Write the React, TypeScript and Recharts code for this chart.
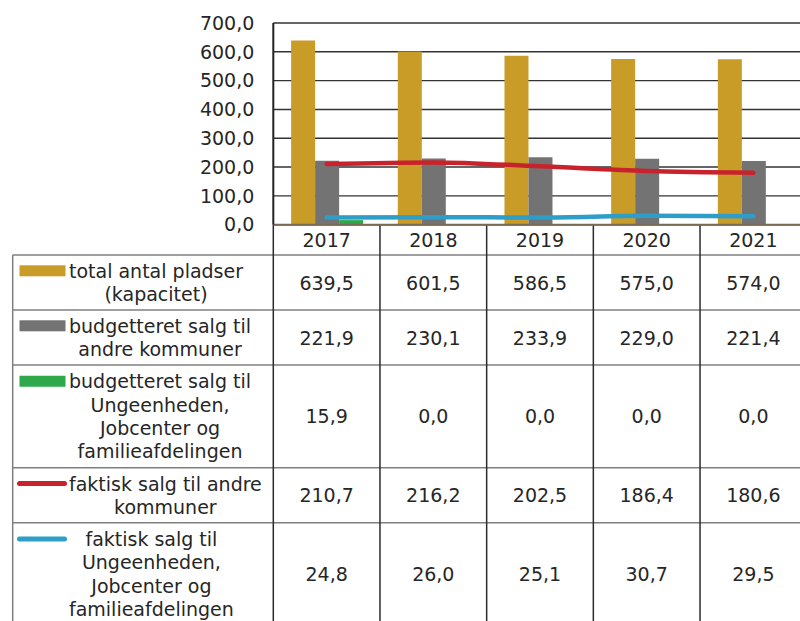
import React from 'react';
import { ComposedChart, Bar, Line, XAxis, YAxis, CartesianGrid, Customized } from 'recharts';

// ---------- data ----------
const categories = ['2017', '2018', '2019', '2020', '2021'];
const totalPladser = [639.5, 601.5, 586.5, 575.0, 574.0];
const budgetAndre = [221.9, 230.1, 233.9, 229.0, 221.4];
const budgetUnge = [15.9, 0.0, 0.0, 0.0, 0.0];
const faktiskAndre = [210.7, 216.2, 202.5, 186.4, 180.6];
const faktiskUnge = [24.8, 26.0, 25.1, 30.7, 29.5];
const yTicks = [0, 100, 200, 300, 400, 500, 600, 700];

const labelTotal = ['total antal pladser', '(kapacitet)'];
const labelBudgetAndre = ['budgetteret salg til', 'andre kommuner'];
const labelBudgetUnge = ['budgetteret salg til', 'Ungeenheden,', 'Jobcenter og', 'familieafdelingen'];
const labelFaktiskAndre = ['faktisk salg til andre', 'kommuner'];
const labelFaktiskUnge = ['faktisk salg til', 'Ungeenheden,', 'Jobcenter og', 'familieafdelingen'];

// ---------- styles ----------
const COLORS = {
  gold: '#C99C28',
  gray: '#737373',
  green: '#2DA84B',
  red: '#C8232C',
  blue: '#2E9EC9',
};
const FONT = '"DejaVu Sans", Verdana, sans-serif';
const FONT_SIZE = 19;
const TEXT = '#262626';

const data = categories.map((c, i) => ({
  cat: c,
  total: totalPladser[i],
  bAndre: budgetAndre[i],
  bUnge: budgetUnge[i],
  fAndre: faktiskAndre[i],
  fUnge: faktiskUnge[i],
}));

const rowsDef = [
  { kind: 'bar', color: COLORS.gold, lines: labelTotal, values: totalPladser },
  { kind: 'bar', color: COLORS.gray, lines: labelBudgetAndre, values: budgetAndre },
  { kind: 'bar', color: COLORS.green, lines: labelBudgetUnge, values: budgetUnge },
  { kind: 'line', color: COLORS.red, lines: labelFaktiskAndre, values: faktiskAndre },
  { kind: 'line', color: COLORS.blue, lines: labelFaktiskUnge, values: faktiskUnge },
];

// ---------- layout ----------
const CHART_W = 815;
const CHART_H = 621;
const PLOT_LEFT = 273.3;
const PLOT_RIGHT = 806.7;
const PLOT_TOP = 23;
const PLOT_BOTTOM = 224.7;
const XAXIS_H = 30;
const TABLE_TOP = 255;
const TABLE_LEFT = 12.7;
const ROW_HEIGHTS = [55, 55, 102.7, 55, 102.7];
const LINE_GAP = 23.4;
const LABEL_START = 69;

const fmt = (v: number) => v.toFixed(1).replace('.', ',');

let measureCtx: CanvasRenderingContext2D | null = null;
const measure = (s: string) => {
  if (!measureCtx) {
    const c = document.createElement('canvas');
    measureCtx = c.getContext('2d');
    if (measureCtx) measureCtx.font = `${FONT_SIZE}px "DejaVu Sans"`;
  }
  return measureCtx ? measureCtx.measureText(s).width : s.length * 10;
};

const XTick = (props: any) => {
  const { x, y, payload } = props;
  return (
    <text x={x} y={y + 15} textAnchor="middle" dominantBaseline="central" fill={TEXT} fontSize={FONT_SIZE} fontFamily={FONT}>
      {payload.value}
    </text>
  );
};

const TableLayer = () => {
  const n = categories.length;
  const band = (PLOT_RIGHT - PLOT_LEFT) / n;
  const boundaries: number[] = [];
  let acc = TABLE_TOP;
  boundaries.push(acc);
  ROW_HEIGHTS.forEach((h) => {
    acc += h;
    boundaries.push(acc);
  });
  const bottom = boundaries[boundaries.length - 1];
  const els: React.ReactNode[] = [];

  // horizontal lines
  boundaries.slice(0, -1).forEach((yy, i) => {
    els.push(<line key={`h${i}`} x1={TABLE_LEFT} x2={CHART_W} y1={yy} y2={yy} stroke="#7F7F7F" strokeWidth={1.5} />);
  });
  // left border
  els.push(<line key="lb" x1={TABLE_LEFT} x2={TABLE_LEFT} y1={TABLE_TOP} y2={bottom} stroke="#7F7F7F" strokeWidth={1.5} />);
  // vertical category lines
  for (let k = 0; k <= n; k++) {
    const xx = PLOT_LEFT + k * band;
    els.push(<line key={`v${k}`} x1={xx} x2={xx} y1={PLOT_BOTTOM} y2={bottom} stroke="#2B2B2B" strokeWidth={1.5} />);
  }

  rowsDef.forEach((row, r) => {
    const top = boundaries[r];
    const h = ROW_HEIGHTS[r];
    const cy = top + h / 2;
    const nl = row.lines.length;
    const firstY = cy - ((nl - 1) * LINE_GAP) / 2;
    const maxW = Math.max(...row.lines.map(measure));
    const cx = LABEL_START + maxW / 2;
    // marker
    if (row.kind === 'bar') {
      els.push(<rect key={`m${r}`} x={19.5} y={firstY - 5.5} width={46} height={11} fill={row.color} />);
    } else {
      els.push(
        <line key={`m${r}`} x1={19.5} x2={64.5} y1={firstY} y2={firstY} stroke={row.color} strokeWidth={5} strokeLinecap="round" />
      );
    }
    row.lines.forEach((ln, li) => {
      els.push(
        <text key={`t${r}-${li}`} x={cx} y={firstY + li * LINE_GAP} textAnchor="middle" dominantBaseline="central" fill={TEXT} fontSize={FONT_SIZE} fontFamily={FONT}>
          {ln}
        </text>
      );
    });
    row.values.forEach((v, ci) => {
      els.push(
        <text key={`v${r}-${ci}`} x={PLOT_LEFT + (ci + 0.5) * band} y={cy} textAnchor="middle" dominantBaseline="central" fill={TEXT} fontSize={FONT_SIZE} fontFamily={FONT}>
          {fmt(v)}
        </text>
      );
    });
  });
  return <g>{els}</g>;
};

export default function App() {
  return (
    <div style={{ position: 'absolute', left: 0, top: 0, width: 800, height: 621, overflow: 'hidden', background: '#fff' }}>
      <ComposedChart
        width={CHART_W}
        height={CHART_H}
        data={data}
        margin={{ top: PLOT_TOP, right: CHART_W - PLOT_RIGHT, left: 0, bottom: CHART_H - PLOT_BOTTOM - XAXIS_H }}
        barCategoryGap="16.7%"
        barGap={0}
      >
        <CartesianGrid horizontal vertical={false} stroke="#333" strokeWidth={1.4} />
        <XAxis
          dataKey="cat"
          height={XAXIS_H}
          tickLine={false}
          tickSize={0}
          tickMargin={0}
          axisLine={{ stroke: '#7B6D55', strokeWidth: 2 }}
          tick={<XTick />}
          interval={0}
        />
        <YAxis
          width={PLOT_LEFT}
          domain={[0, 700]}
          ticks={yTicks}
          tickFormatter={fmt}
          tickLine={false}
          tickSize={0}
          tickMargin={19}
          axisLine={{ stroke: '#222', strokeWidth: 2 }}
          tick={{ fill: TEXT, fontSize: FONT_SIZE, fontFamily: FONT }}
          interval={0}
        />
        <Bar dataKey="total" fill={COLORS.gold} isAnimationActive={false} />
        <Bar dataKey="bAndre" fill={COLORS.gray} isAnimationActive={false} />
        <Bar dataKey="bUnge" fill={COLORS.green} isAnimationActive={false} />
        <Line dataKey="fAndre" type="monotone" stroke={COLORS.red} strokeWidth={4.5} strokeLinecap="round" dot={false} activeDot={false} isAnimationActive={false} />
        <Line dataKey="fUnge" type="monotone" stroke={COLORS.blue} strokeWidth={4.5} strokeLinecap="round" dot={false} activeDot={false} isAnimationActive={false} />
        <Customized component={<TableLayer />} />
      </ComposedChart>
    </div>
  );
}
